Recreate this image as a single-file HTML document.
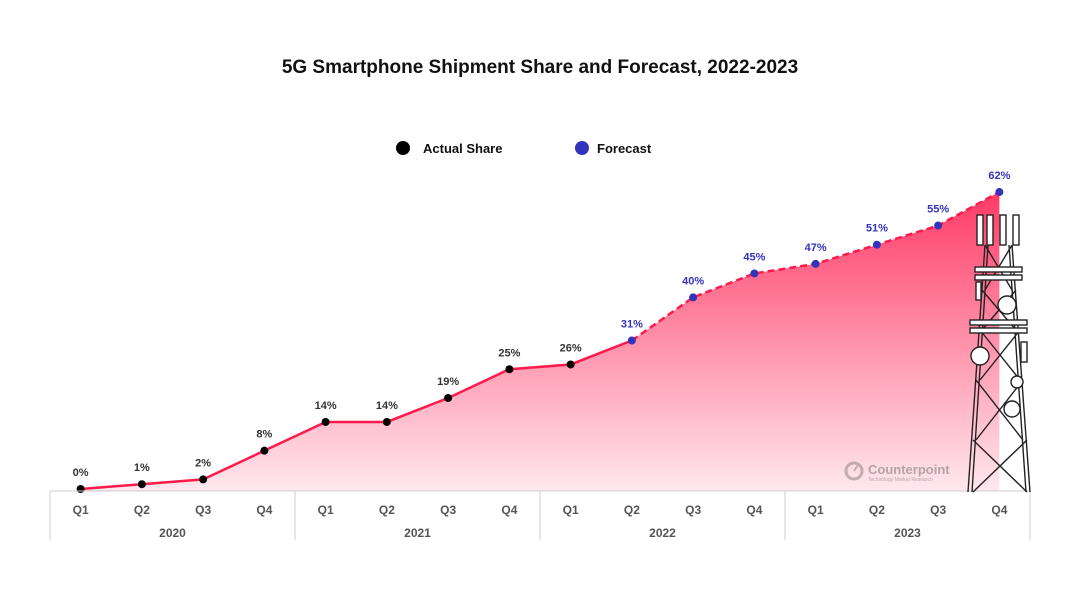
<!DOCTYPE html>
<html><head><meta charset="utf-8"><style>
body{margin:0;background:#fff;}
svg{display:block;font-family:"Liberation Sans",Arial,sans-serif;}
</style></head><body>
<svg id="chart" width="1080" height="608" viewBox="0 0 1080 608">
<defs>
<linearGradient id="areaGrad" x1="0" y1="0" x2="0" y2="1">
<stop offset="0" stop-color="#ff3a66"/>
<stop offset="1" stop-color="#ffe8ee"/>
</linearGradient>
</defs>
<text x="540" y="73" text-anchor="middle" font-size="19" font-weight="bold" fill="#111">5G Smartphone Shipment Share and Forecast, 2022-2023</text>
<g>
<g><circle cx="403" cy="148" r="7" fill="#000"/><text x="423" y="153" font-size="13" font-weight="bold" fill="#111">Actual Share</text></g>
<g><circle cx="582" cy="148" r="7" fill="#3333bb"/><text x="597" y="153" font-size="13" font-weight="bold" fill="#111">Forecast</text></g>
</g>
<g id="plot"></g>
<g id="axis"></g>
<g opacity="0.55">
<circle cx="854" cy="471" r="8" fill="none" stroke="#888" stroke-width="3"/>
<line x1="854" y1="471" x2="858" y2="465" stroke="#888" stroke-width="2"/>
<text x="868" y="474" font-size="13" font-weight="bold" fill="#777">Counterpoint</text>
<text x="868" y="481" font-size="5" fill="#777">Technology Market Research</text>
</g>
<g id="tower" fill="#fff" stroke="#222" stroke-width="1.4">
<line x1="968" y1="492" x2="985" y2="245"/><line x1="1030" y1="492" x2="1012" y2="245"/>
<line x1="972" y1="492" x2="988" y2="245"/><line x1="1026" y1="492" x2="1009" y2="245"/>
<line x1="985" y1="245" x2="1012" y2="290"/><line x1="1012" y1="245" x2="985" y2="290"/>
<line x1="982" y1="290" x2="1016" y2="330"/><line x1="1016" y1="290" x2="982" y2="330"/>
<line x1="980" y1="330" x2="1020" y2="380"/><line x1="1020" y1="330" x2="980" y2="380"/>
<line x1="976" y1="380" x2="1023" y2="440"/><line x1="1023" y1="380" x2="976" y2="440"/>
<line x1="973" y1="440" x2="1027" y2="492"/><line x1="1027" y1="440" x2="973" y2="492"/>
<rect x="975" y="267" width="47" height="5"/><rect x="975" y="275" width="47" height="5"/>
<rect x="970" y="320" width="57" height="5"/><rect x="970" y="328" width="57" height="5"/>
<rect x="977" y="215" width="6" height="30"/><rect x="987" y="215" width="6" height="30"/><rect x="1000" y="215" width="6" height="30"/><rect x="1013" y="215" width="6" height="30"/>
<rect x="976" y="282" width="5" height="18"/><rect x="1021" y="342" width="6" height="20"/>
<circle cx="1007" cy="305" r="9"/><circle cx="980" cy="356" r="9"/><circle cx="1017" cy="382" r="6"/><circle cx="1012" cy="409" r="8"/>
</g>
</svg>
<script>
const categories=["Q1","Q2","Q3","Q4","Q1","Q2","Q3","Q4","Q1","Q2","Q3","Q4","Q1","Q2","Q3","Q4"];
const years=["2020","2021","2022","2023"];
const actualValues=[0,1,2,8,14,14,19,25,26,31];
const forecastValues=[40,45,47,51,55,62];
const NS="http://www.w3.org/2000/svg";
const x0=50,x1=1030,base=491;
const bw=(x1-x0)/categories.length;
const xs=i=>x0+bw*(i+0.5);
const ys=v=>489-v*4.79;
function mk(tag,attrs,parent){const e=document.createElementNS(NS,tag);for(const k in attrs)e.setAttribute(k,attrs[k]);parent.appendChild(e);return e;}
const plot=document.getElementById('plot'),axis=document.getElementById('axis');
const all=actualValues.concat(forecastValues);
let d="M"+xs(0)+","+base;
all.forEach((v,i)=>{d+=" L"+xs(i)+","+ys(v);});
d+=" L"+xs(all.length-1)+","+base+" Z";
const area=mk('path',{d:d,fill:"url(#areaGrad)"},plot);


const aPts=actualValues.map((v,i)=>xs(i)+","+ys(v)).join(" ");
const aLine=mk('polyline',{points:aPts,fill:"none",stroke:"#ff1a4b","stroke-width":2.5},plot);


const fStart=actualValues.length-1;
const fPts=[xs(fStart)+","+ys(actualValues[fStart])].concat(forecastValues.map((v,j)=>xs(fStart+1+j)+","+ys(v))).join(" ");
const fLine=mk('polyline',{points:fPts,fill:"none",stroke:"#ff1a4b","stroke-width":2.5,"stroke-dasharray":"7,4"},plot);


all.forEach((v,i)=>{
  const isF=i>=actualValues.length || i===fStart;
  const col=isF?"#3333bb":"#000";
  const c=mk('circle',{cx:xs(i),cy:ys(v),r:4,fill:col},plot);
  
  
  const t=mk('text',{x:xs(i),y:ys(v)-13,"text-anchor":"middle","font-size":11,"font-weight":"bold",fill:isF?"#3333bb":"#333"},plot);
  t.textContent=v+"%";
  
  
});
const bl=mk('line',{x1:x0,y1:base,x2:x1,y2:base,stroke:"#ccc","stroke-width":1},axis);


for(let g=0;g<=years.length;g++){
  const x=x0+g*bw*4;
  const s=mk('line',{x1:x,y1:base,x2:x,y2:540,stroke:"#ccc","stroke-width":1},axis);
  
  
}
categories.forEach((c,i)=>{
  const t=mk('text',{x:xs(i),y:514,"text-anchor":"middle","font-size":12,"font-weight":"bold",fill:"#555"},axis);
  t.textContent=c;
  
  
});
years.forEach((y,g)=>{
  const t=mk('text',{x:x0+bw*4*g+bw*2,y:537,"text-anchor":"middle","font-size":12,"font-weight":"bold",fill:"#555"},axis);
  t.textContent=y;
  
  
});
</script>
</body></html>
